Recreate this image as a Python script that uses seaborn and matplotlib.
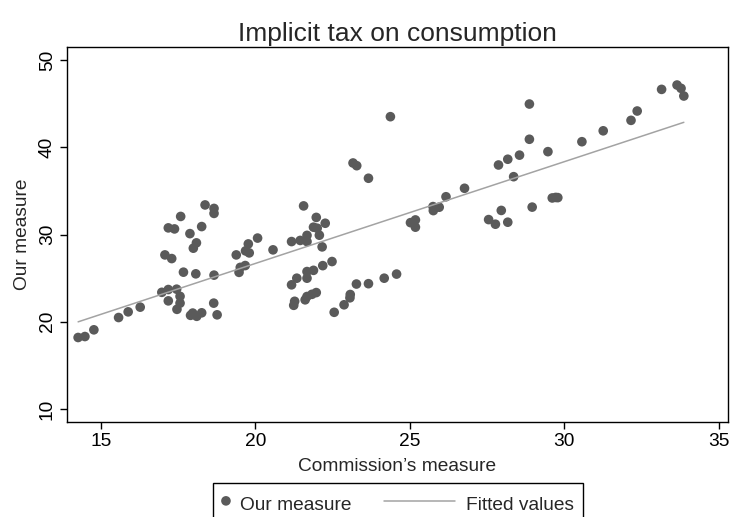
"""Implicit tax on consumption: our measure vs. the Commission's measure."""

import matplotlib

matplotlib.use("Agg")
import matplotlib.pyplot as plt
import numpy as np
import pandas as pd
import seaborn as sns
from matplotlib.legend_handler import HandlerLine2D

# Commission's measure (x) and our measure (y)
COMMISSION = [
    14.26, 14.48, 14.77, 15.57, 15.88, 16.27,
    18.37, 18.66, 18.66, 17.58, 17.18, 17.38, 18.26, 17.88, 18.09, 17.99,
    17.07, 17.29, 17.67, 18.07, 18.66, 16.97, 17.18, 17.45, 17.18, 17.56,
    17.56, 17.46, 17.90, 18.10, 18.26, 18.65, 18.76, 17.97,
    20.07, 19.77, 19.38, 19.68, 19.80, 20.57, 21.17, 21.45, 19.51, 19.67,
    19.47, 21.17, 21.34, 21.27, 21.24,
    21.56, 21.97, 22.26, 21.88, 22.00, 22.07, 21.67, 21.67, 22.16, 22.48,
    22.18, 21.88, 21.67, 21.67, 21.97, 21.83, 21.67, 21.61,
    22.55, 22.87, 23.06, 23.07, 23.27, 23.66, 24.17, 24.57, 23.16, 23.28,
    23.66, 24.37, 25.02, 25.18, 25.18,
    25.75, 25.95, 25.76, 26.17, 26.77, 27.55, 27.77, 28.17, 27.96, 28.36,
    27.87, 28.17, 28.55, 28.87, 28.87, 28.96, 29.47, 29.61, 29.72, 29.79,
    30.57, 31.26, 32.16, 32.36, 33.15, 33.65, 33.78, 33.87,
]
OURS = [
    18.19, 18.30, 19.07, 20.48, 21.13, 21.67,
    33.39, 32.99, 32.42, 32.07, 30.76, 30.64, 30.91, 30.10, 29.04, 28.43,
    27.66, 27.24, 25.68, 25.49, 25.34, 23.37, 23.69, 23.73, 22.39, 22.91,
    22.13, 21.42, 20.73, 20.62, 21.02, 22.13, 20.79, 20.99,
    29.59, 28.92, 27.66, 28.12, 27.89, 28.24, 29.19, 29.32, 26.23, 26.44,
    25.66, 24.23, 24.99, 22.34, 21.88,
    33.28, 31.96, 31.29, 30.84, 30.72, 29.92, 29.90, 29.19, 28.58, 26.90,
    26.43, 25.89, 25.75, 24.99, 23.34, 23.14, 22.89, 22.51,
    21.08, 21.94, 22.74, 23.12, 24.32, 24.36, 24.99, 25.46, 38.20, 37.89,
    36.45, 43.51, 31.36, 31.67, 30.84,
    33.20, 33.13, 32.74, 34.33, 35.30, 31.71, 31.18, 31.41, 32.76, 36.63,
    37.97, 38.63, 39.10, 44.96, 40.92, 33.14, 39.50, 34.19, 34.25, 34.23,
    40.64, 41.89, 43.09, 44.16, 46.64, 47.14, 46.76, 45.88,
]
X_TICKS = [15, 20, 25, 30, 35]
Y_TICKS = [10, 20, 30, 40, 50]

POINT_COLOR = "#5a5a5a"
LINE_COLOR = "#a3a3a3"
FONT = 13.8


class WideLineHandler(HandlerLine2D):
    """Legend line sample that reaches further left than the (narrow) handle box."""

    def get_xdata(self, legend, xdescent, ydescent, width, height, fontsize):
        right = -xdescent + width
        xs = np.array([right - 3.7 * fontsize, right])
        return xs, xs


def main() -> None:
    df = pd.DataFrame({"commission": COMMISSION, "ours": OURS})

    sns.set_style("ticks")
    plt.rcParams["font.family"] = ["Liberation Sans", "DejaVu Sans"]

    fig = plt.figure(figsize=(7.31, 5.17), dpi=100)
    ax = fig.add_axes([67 / 731, 1 - 422 / 517, 661 / 731, 375 / 517])

    sns.scatterplot(
        data=df, x="commission", y="ours", ax=ax,
        color=POINT_COLOR, s=48, edgecolor="none", label="Our measure",
    )
    sns.regplot(
        data=df, x="commission", y="ours", ax=ax, scatter=False, ci=None,
        color=LINE_COLOR, line_kws={"linewidth": 1.1}, label="Fitted values",
    )

    ax.set_xlim(13.9, 35.3)
    ax.set_ylim(8.5, 51.5)
    ax.set_xticks(X_TICKS)
    ax.set_yticks(Y_TICKS)
    ax.tick_params(direction="out", length=5, width=1, colors="black",
                   labelsize=FONT, pad=3)
    for lbl in ax.get_yticklabels():
        lbl.set_rotation(90)
        lbl.set_va("center")
    for side in ("left", "right", "top", "bottom"):
        ax.spines[side].set_visible(True)
        ax.spines[side].set_color("black")
        ax.spines[side].set_linewidth(1)

    ax.set_title("Implicit tax on consumption", fontsize=19, pad=4)
    ax.set_xlabel("Commission\u2019s measure", fontsize=FONT, labelpad=6)
    ax.set_ylabel("Our measure", fontsize=FONT, labelpad=6)

    handles, labels = ax.get_legend_handles_labels()
    ax.get_legend().remove()
    leg = fig.legend(
        handles, labels, loc="upper center", bbox_to_anchor=(398 / 731, 1 - 483 / 517),
        ncol=2, frameon=True, fancybox=False, edgecolor="black", framealpha=1,
        fontsize=FONT, handlelength=0.4, handleheight=1.5, handletextpad=0.55,
        columnspacing=5.0, borderpad=0.45, borderaxespad=0,
        handler_map={handles[1]: WideLineHandler()},
    )
    leg.get_frame().set_linewidth(1)

    fig.savefig("out.png", dpi=100)
    plt.close(fig)


if __name__ == "__main__":
    main()
